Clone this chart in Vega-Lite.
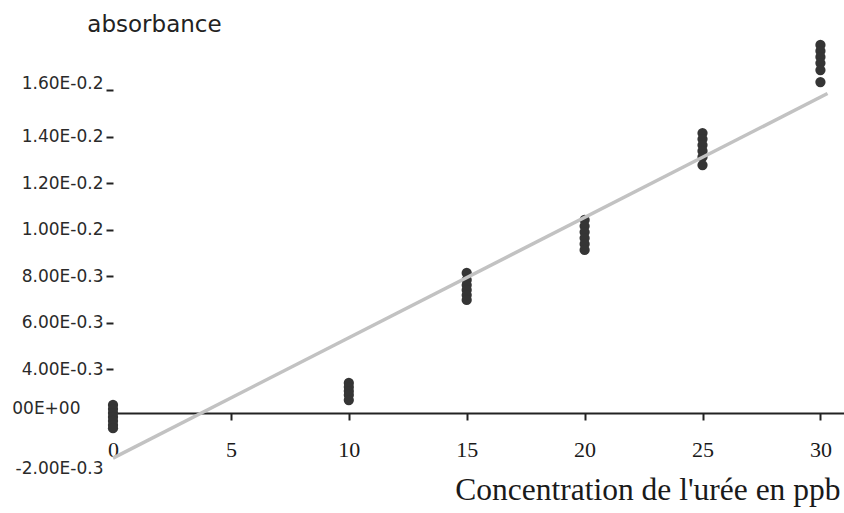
{
  "$schema": "https://vega.github.io/schema/vega-lite/v6.json",
  "width": 731,
  "height": 366,
  "autosize": "none",
  "padding": {"left": 113, "top": 47, "right": 0, "bottom": 100},
  "background": "white",
  "config": {"view": {"stroke": null}},
  "datasets": {
    "points": [
      {"conc": 0, "abs": 0.00073}, {"conc": 0, "abs": 0.00036}, {"conc": 0, "abs": 0.0}, {"conc": 0, "abs": -0.000145}, {"conc": 0, "abs": -0.00029}, {"conc": 0, "abs": -0.00044}, {"conc": 0, "abs": -0.00055},
      {"conc": 10, "abs": 0.00273}, {"conc": 10, "abs": 0.00236}, {"conc": 10, "abs": 0.002}, {"conc": 10, "abs": 0.00164}, {"conc": 10, "abs": 0.00118},
      {"conc": 15, "abs": 0.00813}, {"conc": 15, "abs": 0.00783}, {"conc": 15, "abs": 0.00761}, {"conc": 15, "abs": 0.0074}, {"conc": 15, "abs": 0.00718}, {"conc": 15, "abs": 0.00697},
      {"conc": 20, "abs": 0.01041}, {"conc": 20, "abs": 0.01015}, {"conc": 20, "abs": 0.00989}, {"conc": 20, "abs": 0.00963}, {"conc": 20, "abs": 0.00938}, {"conc": 20, "abs": 0.00912},
      {"conc": 25, "abs": 0.01415}, {"conc": 25, "abs": 0.01389}, {"conc": 25, "abs": 0.01363}, {"conc": 25, "abs": 0.01338}, {"conc": 25, "abs": 0.01312}, {"conc": 25, "abs": 0.01277},
      {"conc": 30, "abs": 0.01794}, {"conc": 30, "abs": 0.01768}, {"conc": 30, "abs": 0.01742}, {"conc": 30, "abs": 0.01716}, {"conc": 30, "abs": 0.01686}, {"conc": 30, "abs": 0.01634}
    ],
    "fit": [
      {"conc": 0, "abs": -0.00164},
      {"conc": 30.3, "abs": 0.01585}
    ]
  },
  "layer": [
    {
      "mark": {"type": "rule", "color": "#222222", "strokeWidth": 2},
      "encoding": {
        "x": {"datum": 0, "type": "quantitative", "scale": {"domain": [0, 31], "nice": false, "zero": false}},
        "y": {"datum": 0.01785, "type": "quantitative", "scale": {"domain": [-0.002, 0, 0.004, 0.01785], "range": [421, 366, 322, 0], "nice": false, "zero": false}},
        "y2": {"datum": -0.00051}
      }
    },
    {
      "data": {"name": "points"},
      "mark": {"type": "circle", "size": 105, "color": "#353535", "opacity": 1},
      "encoding": {
        "x": {
          "field": "conc", "type": "quantitative",
          "scale": {"domain": [0, 31], "nice": false, "zero": false},
          "axis": {
            "values": [0, 5, 10, 15, 20, 25, 30],
            "grid": false,
            "domainColor": "#222222", "domainWidth": 2,
            "tickColor": "#222222", "tickWidth": 2, "tickSize": 7,
            "labelFont": "Liberation Serif", "labelFontSize": 22, "labelColor": "#1a1a1a",
            "labelPadding": 19, "labelFlush": false, "labelOverlap": false,
            "title": "Concentration de l'urée en ppb",
            "titleFont": "Liberation Serif", "titleFontSize": 31.5, "titleFontWeight": "normal", "titleColor": "#1a1a1a",
            "titleAnchor": "end", "titleAlign": "right", "titleX": 727, "titleY": 86, "titleBaseline": "alphabetic"
          }
        },
        "y": {
          "field": "abs", "type": "quantitative",
          "scale": {"domain": [-0.002, 0, 0.004, 0.01785], "range": [421, 366, 322, 0], "nice": false, "zero": false},
          "axis": {
            "values": [-0.002, 0, 0.004, 0.006, 0.008, 0.01, 0.012, 0.014, 0.016],
            "grid": false,
            "domain": false,
            "tickColor": "#222222", "tickWidth": 2, "tickSize": 7,
            "tickOpacity": {"condition": {"test": "datum.value <= 0", "value": 0}, "value": 1},
            "labelExpr": "['-2.00E-0.3', '', '00E+00', '', '', '', '4.00E-0.3', '', '6.00E-0.3', '', '8.00E-0.3', '', '1.00E-0.2', '', '1.20E-0.2', '', '1.40E-0.2', '', '1.60E-0.2'][round(datum.value * 1000) + 2]",
            "labelFont": "DejaVu Sans", "labelFontSize": 17, "labelColor": "#2a2a2a",
            "labelPadding": {"condition": {"test": "abs(datum.value) < 0.0001", "value": 26}, "value": 3},
            "labelOffset": {"condition": [{"test": "abs(datum.value) < 0.0001", "value": -5}, {"test": "datum.value > 0.0155", "value": -7}], "value": 0},
            "labelOverlap": false, "labelFlush": false, "labelBound": false,
            "title": "absorbance",
            "titleFont": "DejaVu Sans", "titleFontSize": 23, "titleFontWeight": "normal", "titleColor": "#222222",
            "titleAngle": 0, "titleAlign": "center", "titleBaseline": "alphabetic",
            "titleX": 41, "titleY": -16
          }
        }
      }
    },
    {
      "data": {"name": "fit"},
      "mark": {"type": "line", "color": "#c2c2c2", "strokeWidth": 3.5},
      "encoding": {
        "x": {"field": "conc", "type": "quantitative", "scale": {"domain": [0, 31], "nice": false, "zero": false}},
        "y": {"field": "abs", "type": "quantitative", "scale": {"domain": [-0.002, 0, 0.004, 0.01785], "range": [421, 366, 322, 0], "nice": false, "zero": false}}
      }
    }
  ]
}
